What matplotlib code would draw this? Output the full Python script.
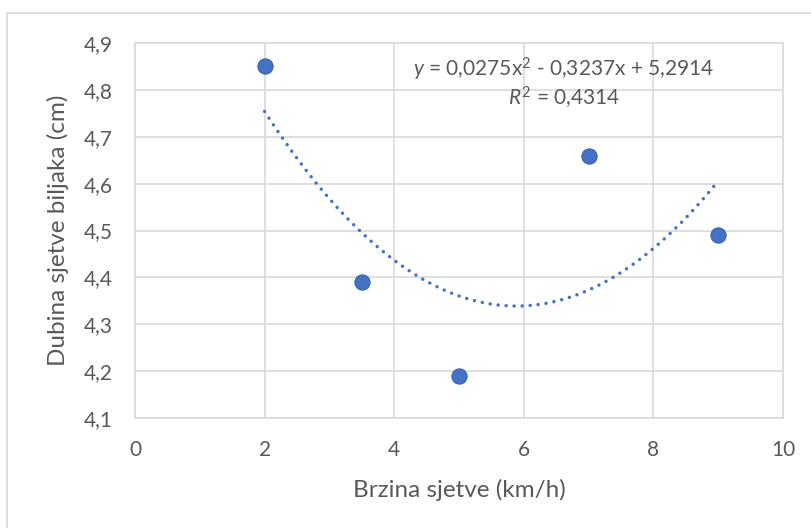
import numpy as np
import matplotlib
matplotlib.use("Agg")
import matplotlib.pyplot as plt
from matplotlib.patches import Rectangle

# Data
speed = [2, 3.5, 5, 7, 9]
depth = [4.85, 4.39, 4.19, 4.66, 4.49]
coef = [0.0275, -0.3237, 5.2914]   # trendline y = a x^2 + b x + c
r2_text = "0,4314"
x_ticks = [0, 2, 4, 6, 8, 10]
y_ticks = [4.1, 4.2, 4.3, 4.4, 4.5, 4.6, 4.7, 4.8, 4.9]

blue = "#4472C4"
grey_text = "#595959"
grid_col = "#D9D9D9"

plt.rcParams['font.family'] = ['Lato', 'DejaVu Sans']
plt.rcParams['mathtext.fontset'] = 'custom'
plt.rcParams['mathtext.rm'] = 'Lato'
plt.rcParams['mathtext.it'] = 'Lato:italic'

W, H = 811, 528
fig = plt.figure(figsize=(W / 100, H / 100), dpi=100)
ax = fig.add_axes([135 / W, 1 - 418 / H, (783 - 135) / W, (418 - 43) / H])

# chart area frame (only top/left visible in reference)
fig.patches.append(Rectangle((7 / W, -0.1), 1.2, 1.1 - 13 / H,
                             transform=fig.transFigure, fill=False,
                             edgecolor=grid_col, linewidth=1.2))

ax.set_xlim(0, 10)
ax.set_ylim(4.1, 4.9)
ax.set_xticks(x_ticks)
ax.set_yticks(y_ticks)
ax.set_xticklabels([str(t) for t in x_ticks])
ax.set_yticklabels([f"{t:.1f}".replace(".", ",") for t in y_ticks])
ax.grid(True, color=grid_col, linewidth=1.2)
ax.set_axisbelow(True)
for s in ax.spines.values():
    s.set_color(grid_col)
    s.set_linewidth(1.2)
ax.tick_params(length=0, labelsize=15, colors=grey_text, pad=16)

xs = np.linspace(min(speed), max(speed), 300)
ys = np.polyval(coef, xs)
ax.plot(xs, ys, color=blue, linewidth=2.5, linestyle=(0, (0.01, 2.3)),
        dash_capstyle='round')

ax.scatter(speed, depth, s=120, color=blue, edgecolor="#3B64AD",
           linewidth=0.8, zorder=3)

# axis titles placed where the reference has them
fig.text(459 / W, 1 - 497 / H, "Brzina sjetve (km/h)", fontsize=17.5,
         color=grey_text, ha='center', va='baseline')
fig.text(58 / W, 1 - 230 / H, "Dubina sjetve biljaka (cm)", fontsize=17.5,
         color=grey_text, ha='center', va='center', rotation=90)

ax.text(6.62, 4.8275, "$\\mathit{y}$ = 0,0275x$^{2}$ - 0,3237x + 5,2914",
        fontsize=15, color=grey_text, ha='center', va='baseline')
ax.text(6.62, 4.7656, "$\\mathit{R}^{2}$ = " + r2_text,
        fontsize=15, color=grey_text, ha='center', va='baseline')

fig.savefig("out.png", dpi=100)
